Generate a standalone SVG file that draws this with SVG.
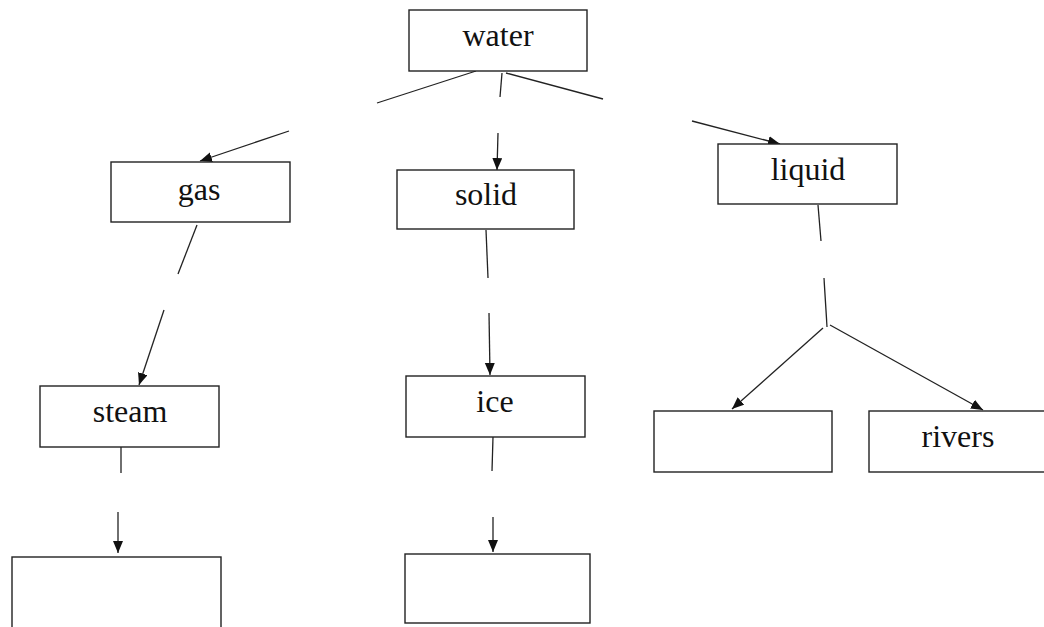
<svg xmlns="http://www.w3.org/2000/svg" width="1044" height="627" viewBox="0 0 1044 627">
<defs>
<marker id="ah" markerUnits="userSpaceOnUse" markerWidth="13" markerHeight="11" refX="12" refY="5" orient="auto">
<path d="M0,0 L12,5 L0,10 Z" fill="#111"/>
</marker>
<style>
.box{fill:#fff;stroke:#222;stroke-width:1.4}
.t{font-family:"Liberation Serif","Times New Roman",serif;font-size:32px;fill:#111;text-anchor:middle}
.c line{stroke:#222;stroke-width:1.3;fill:none}
.a{marker-end:url(#ah)}
</style>
</defs>
<rect width="1044" height="627" fill="#fff"/>
<g class="c" id="connectors">
<line x1="476" y1="71" x2="377" y2="103"/>
<line x1="502" y1="73" x2="500" y2="97"/>
<line x1="506" y1="73" x2="603" y2="99"/>
<line class="a" x1="289" y1="131" x2="200" y2="161"/>
<line class="a" x1="498" y1="133" x2="497" y2="170"/>
<line class="a" x1="692" y1="121" x2="780" y2="144"/>
<line x1="197" y1="225" x2="178" y2="274"/>
<line class="a" x1="164" y1="310" x2="139" y2="385"/>
<line x1="486" y1="230" x2="488" y2="278"/>
<line class="a" x1="489" y1="313" x2="490" y2="375"/>
<line x1="818" y1="205" x2="821" y2="241"/>
<line x1="824" y1="278" x2="827" y2="327"/>
<line class="a" x1="823" y1="328" x2="732" y2="409"/>
<line class="a" x1="830" y1="325" x2="983" y2="410"/>
<line x1="121" y1="447" x2="121" y2="473"/>
<line class="a" x1="118" y1="512" x2="118" y2="553"/>
<line x1="493" y1="437" x2="492" y2="471"/>
<line class="a" x1="493" y1="517" x2="493" y2="552"/>
</g>
<g id="water"><rect class="box" x="409" y="10" width="178" height="61"/><text class="t" x="498" y="46">water</text></g>
<g id="gas"><rect class="box" x="111" y="162" width="179" height="60"/><text class="t" x="199" y="200">gas</text></g>
<g id="solid"><rect class="box" x="397" y="170" width="177" height="59"/><text class="t" x="486" y="205">solid</text></g>
<g id="liquid"><rect class="box" x="718" y="144" width="179" height="60"/><text class="t" x="808" y="180">liquid</text></g>
<g id="steam"><rect class="box" x="40" y="386" width="179" height="61"/><text class="t" x="130" y="422">steam</text></g>
<g id="ice"><rect class="box" x="406" y="376" width="179" height="61"/><text class="t" x="495" y="412">ice</text></g>
<g id="liquid-empty"><rect class="box" x="654" y="411" width="178" height="61"/></g>
<g id="rivers"><rect class="box" x="869" y="411" width="180" height="61"/><text class="t" x="958" y="447">rivers</text></g>
<g id="steam-empty"><rect class="box" x="12" y="557" width="209" height="75"/></g>
<g id="ice-empty"><rect class="box" x="405" y="554" width="185" height="69"/></g>
</svg>
